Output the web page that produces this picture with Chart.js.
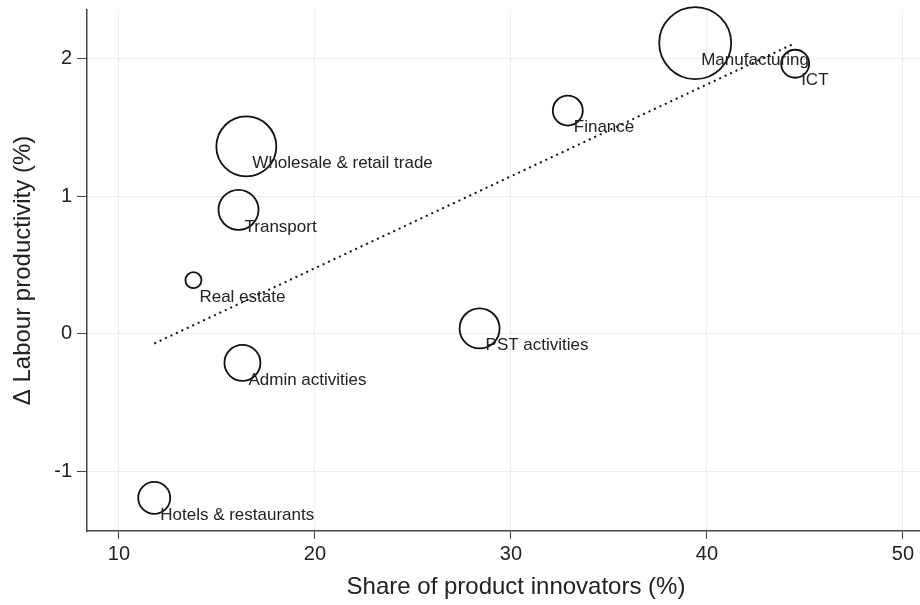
<!DOCTYPE html>
<html lang="en">
<head>
    <meta charset="UTF-8">
    <title>Innovation and labour productivity</title>
    <script src="https://cdn.jsdelivr.net/npm/chart.js"></script>
    <style>
        html, body { margin: 0; padding: 0; background: #fff; }
        #wrap { width: 920px; height: 605px; }
    </style>
</head>
<body>
    <div id="wrap"><canvas id="bubbleChart" width="920" height="605"></canvas></div>

    <script>
        // sectors, share of product innovators (%), change in labour productivity (%)
        const sectors = ['Manufacturing', 'ICT', 'Finance', 'Wholesale & retail trade', 'Transport',
                         'Real estate', 'PST activities', 'Admin activities', 'Hotels & restaurants'];
        const innovShare = [39.4, 44.5, 32.9, 16.5, 16.1, 13.8, 28.4, 16.3, 11.8];
        const prodGrowth = [2.11, 1.96, 1.62, 1.36, 0.90, 0.39, 0.04, -0.21, -1.19];
        const bubbleSize = [36, 14, 15, 30, 20, 8, 20, 18, 16]; // sector weight (radius)

        // fitted line end points
        const fitX = [11.8, 44.5];
        const fitY = [-0.07, 2.11];

        const xTicks = [10, 20, 30, 40, 50];
        const yTicks = [-1, 0, 1, 2];

        const xTitle = 'Share of product innovators (%)';
        const yTitle = 'Δ Labour productivity (%)';

        const FONT = "'Liberation Sans', Arial, Helvetica, sans-serif";

        // sector names next to each bubble + x axis title
        // (the original plot runs past the right edge, so its title sits a bit right of centre)
        const labelPlugin = {
            id: 'sectorLabels',
            afterDatasetsDraw(chart) {
                const meta = chart.getDatasetMeta(0);
                const ctx = chart.ctx;
                ctx.save();
                ctx.font = '17px ' + FONT;
                ctx.fillStyle = '#222';
                ctx.textBaseline = 'middle';
                ctx.textAlign = 'left';
                meta.data.forEach((pt, i) => {
                    ctx.fillText(sectors[i], pt.x + 6, pt.y + 17);
                });

                ctx.font = '24px ' + FONT;
                ctx.textAlign = 'center';
                ctx.fillText(xTitle, chart.chartArea.left + 429, 587);
                ctx.restore();
            }
        };

        const ctx = document.getElementById('bubbleChart').getContext('2d');
        const chart = new Chart(ctx, {
            type: 'bubble',
            data: {
                datasets: [
                    {
                        label: 'Sectors',
                        data: innovShare.map((x, i) => ({ x: x, y: prodGrowth[i], r: bubbleSize[i] })),
                        backgroundColor: 'rgba(0,0,0,0)',
                        borderColor: '#111',
                        borderWidth: 1.8,
                        clip: false
                    },
                    {
                        type: 'line',
                        label: 'Fit',
                        data: fitX.map((x, i) => ({ x: x, y: fitY[i] })),
                        borderColor: '#111',
                        borderWidth: 2,
                        borderDash: [2, 4],
                        pointRadius: 0,
                        fill: false
                    }
                ]
            },
            plugins: [labelPlugin],
            options: {
                responsive: false,
                animation: false,
                layout: { padding: { top: 10, right: 0, left: 0, bottom: 0 }, autoPadding: false },
                plugins: {
                    legend: { display: false },
                    tooltip: { enabled: false }
                },
                scales: {
                    x: {
                        type: 'linear',
                        min: 8.37,
                        max: 50.87,
                        afterBuildTicks: s => { s.ticks = xTicks.map(v => ({ value: v })); },
                        afterFit: s => { s.height = 74; s.paddingLeft = 0; s.paddingRight = 0; },
                        grid: { color: '#ededed', tickColor: '#444', tickLength: 8, lineWidth: 1 },
                        border: { color: '#444', width: 1.5 },
                        ticks: { color: '#222', font: { family: FONT, size: 20 }, padding: 3, maxRotation: 0 },
                        title: { display: false }
                    },
                    y: {
                        type: 'linear',
                        min: -1.43,
                        max: 2.35,
                        afterBuildTicks: s => { s.ticks = yTicks.map(v => ({ value: v })); },
                        afterFit: s => { s.width = 87; s.paddingTop = 0; s.paddingBottom = 0; },
                        grid: { color: '#ededed', tickColor: '#444', tickLength: 10, lineWidth: 1 },
                        border: { color: '#444', width: 1.5 },
                        ticks: { color: '#222', font: { family: FONT, size: 20 }, padding: 5 },
                        title: {
                            display: true,
                            text: yTitle,
                            color: '#222',
                            font: { family: FONT, size: 24 },
                            padding: { top: 9, bottom: 0 }
                        }
                    }
                }
            }
        });
    </script>
</body>
</html>
